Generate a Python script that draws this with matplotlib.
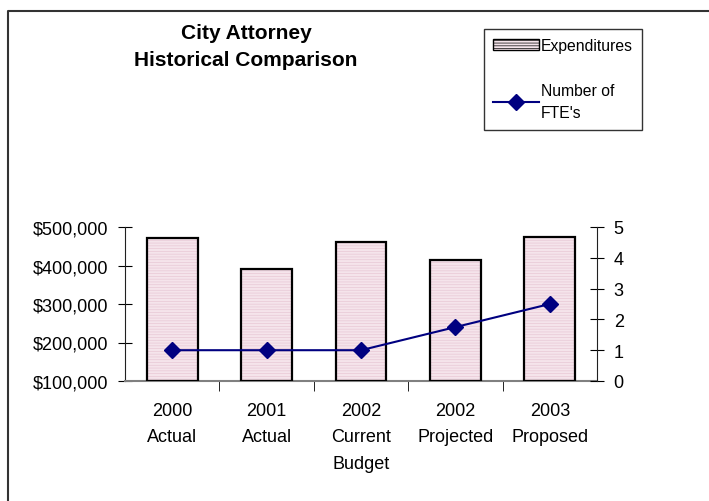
import matplotlib.pyplot as plt
from matplotlib.lines import Line2D
from matplotlib.patches import Patch

plt.rcParams['font.family'] = ['Liberation Sans', 'DejaVu Sans']
plt.rcParams['hatch.linewidth'] = 0.5

categories = ['2000\nActual', '2001\nActual', '2002\nCurrent\nBudget', '2002\nProjected', '2003\nProposed']
expenditures = [471000, 391000, 461000, 414000, 474000]
fte = [1, 1, 1, 1.75, 2.5]
money_ticks = [100000, 200000, 300000, 400000, 500000]
fte_ticks = [0, 1, 2, 3, 4, 5]

fig = plt.figure(figsize=(7.09, 5.02), dpi=100)
ax = fig.add_axes([125 / 709, 1 - 382 / 502, 472 / 709, 154 / 502])

x = list(range(len(categories)))
pink = '#f5e4eb'
ax.bar(x, [v - 100000 for v in expenditures], bottom=100000, width=0.54,
       color=pink, edgecolor='#e8c8d5', linewidth=0, hatch='------', zorder=2)
ax.bar(x, [v - 100000 for v in expenditures], bottom=100000, width=0.54,
       fill=False, edgecolor='black', linewidth=1.6, zorder=3)

ax.set_xlim(-0.5, len(categories) - 0.5)
ax.set_ylim(100000, 500000)
ax.set_yticks(money_ticks)
ax.set_yticklabels(['${:,.0f}'.format(v) for v in money_ticks], fontsize=13)
ax.set_xticks(x)
ax.set_xticklabels(categories, fontsize=13, linespacing=1.72, va='top')
ax.set_xticks([i + 0.5 for i in x[:-1]], minor=True)
ax.tick_params(axis='x', which='major', length=0, pad=15)
ax.tick_params(axis='x', which='minor', length=7, direction='out', color='black')
ax.tick_params(axis='y', direction='inout', length=10, pad=7, color='black')

for s in ['top', 'right']:
    ax.spines[s].set_visible(False)
ax.spines['bottom'].set_color('#808080')
ax.spines['bottom'].set_linewidth(1.5)
ax.spines['left'].set_color('#202020')

ax2 = ax.twinx()
ax2.plot(x, fte, color='#000080', marker='D', markersize=8.5, linewidth=1.5, zorder=5)
ax2.set_ylim(0, 5)
ax2.set_yticks(fte_ticks)
ax2.set_yticklabels([str(v) for v in fte_ticks], fontsize=13)
ax2.tick_params(axis='y', direction='inout', length=10, pad=7, color='black')
for s in ['top', 'left', 'bottom']:
    ax2.spines[s].set_visible(False)
ax2.spines['right'].set_color('#202020')

fig.text(246 / 709, 1 - 47 / 502, 'City Attorney\nHistorical Comparison', ha='center', va='center',
         fontsize=15, fontweight='bold', linespacing=1.55)

handles = [Patch(facecolor=pink, edgecolor='black', hatch='------'),
           Line2D([], [], color='#000080', marker='D', markersize=8.5, linewidth=1.5)]
leg = fig.legend(handles, ['Expenditures', "Number of\nFTE's"], loc='upper left',
                 bbox_to_anchor=(484 / 709, 1 - 30 / 502), fontsize=11.3, frameon=True,
                 fancybox=False, edgecolor='black', labelspacing=1.9, handlelength=2.9,
                 handletextpad=0.1, borderpad=0.6, borderaxespad=0)
leg.get_frame().set_linewidth(1.0)
for t in leg.get_texts():
    t.set_linespacing(1.6)

fig.add_artist(Line2D([8 / 709, 8 / 709, 1], [0, 1 - 12 / 502, 1 - 12 / 502],
                      color='#333333', linewidth=1.5))

fig.savefig('out.png', dpi=100)
